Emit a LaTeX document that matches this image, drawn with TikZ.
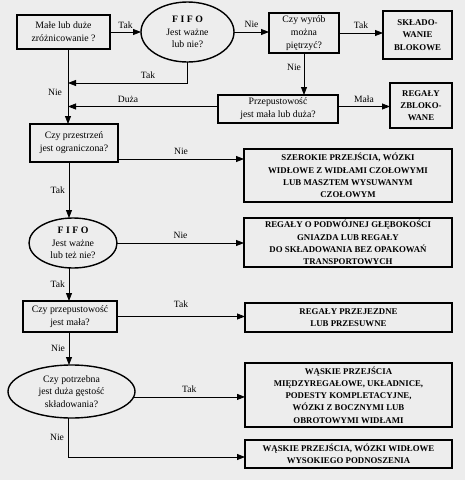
\documentclass[tikz,border=0pt]{standalone}
\usepackage{fontspec}
\setmainfont{Liberation Serif}
\usetikzlibrary{arrows.meta,shapes.geometric}
\begin{document}
\begin{tikzpicture}[x=1pt,y=-1pt,
  every node/.style={inner sep=0pt,outer sep=0pt},
  dbox/.style={draw,line width=1.4pt,align=center,font=\fontsize{9.8}{12.8}\selectfont},
  dell/.style={draw,ellipse,line width=1.4pt,align=center,font=\fontsize{9.8}{12.8}\selectfont},
  obox/.style={draw,line width=1.9pt,align=center,font=\fontsize{8.8}{12.2}\selectfont\bfseries},
  arr/.style={line width=0.8pt,-{Triangle[length=8pt,width=6pt]}},
  lab/.style={font=\fontsize{9.6}{11}\selectfont}]
\fill[black!7] (0,0) rectangle (465,480);
\useasboundingbox (0,0) rectangle (465,480);
% nodes
\node[dbox,minimum width=93pt,minimum height=34pt] (b1) at (63.5,32) {Małe lub duże\\zróżnicowanie ?};
\node[dell,minimum width=93pt,minimum height=60pt] (e1) at (187.5,32) {{\bfseries F I F O}\\Jest ważne\\lub nie?};
\node[dbox,minimum width=70pt,minimum height=40pt] (wy) at (304,33) {Czy wyrób\\można\\piętrzyć?};
\node[obox,minimum width=69pt,minimum height=48pt] (sk) at (417.5,35) {SKŁADO-\\WANIE\\BLOKOWE};
\node[dbox,minimum width=120pt,minimum height=28pt] (pm) at (278,109) {Przepustowość\\jest mała lub duża?};
\node[obox,minimum width=62pt,minimum height=45pt] (zb) at (421,105.5) {REGAŁY\\ZBLOKO-\\WANE};
\node[dbox,minimum width=88pt,minimum height=38pt] (po) at (74,143) {Czy przestrzeń\\jest ograniczona?};
\node[obox,minimum width=208pt,minimum height=53pt] (sz) at (348,175.5) {SZEROKIE PRZEJŚCIA, WÓZKI\\WIDŁOWE Z WIDŁAMI CZOŁOWYMI\\LUB MASZTEM WYSUWANYM\\CZOŁOWYM};
\node[dell,minimum width=88pt,minimum height=50pt] (e2) at (73,243) {{\bfseries F I F O}\\Jest ważne\\lub też nie?};
\node[obox,minimum width=208pt,minimum height=49pt] (pw) at (348,242.5) {REGAŁY O PODWÓJNEJ GŁĘBOKOŚCI\\GNIAZDA LUB REGAŁY\\DO SKŁADOWANIA BEZ OPAKOWAŃ\\TRANSPORTOWYCH};
\node[dbox,minimum width=94pt,minimum height=31pt] (p2) at (70,316.5) {Czy przepustowość\\jest mała?};
\node[obox,minimum width=207pt,minimum height=29pt] (pj) at (348.5,317.5) {REGAŁY PRZEJEZDNE\\LUB PRZESUWNE};
\node[dell,minimum width=127pt,minimum height=53pt] (e3) at (71.5,391.5) {Czy potrzebna\\jest duża gęstość\\składowania?};
\node[obox,minimum width=207pt,minimum height=64pt] (w1) at (348.5,395) {WĄSKIE PRZEJŚCIA\\MIĘDZYREGAŁOWE, UKŁADNICE,\\PODESTY KOMPLETACYJNE,\\WÓZKI Z BOCZNYMI LUB\\OBROTOWYMI WIDŁAMI};
\node[obox,minimum width=207pt,minimum height=28pt] (w2) at (348.5,454) {WĄSKIE PRZEJŚCIA, WÓZKI WIDŁOWE\\WYSOKIEGO PODNOSZENIA};
% helper coordinates
\coordinate (tr) at (68,0);
\coordinate (tr2) at (69,0);
\coordinate (ytak) at (0,83);
\coordinate (ydu) at (0,106.5);
\coordinate (yn1) at (0,159);
\coordinate (ybot) at (0,457);
% connectors
\draw[arr] (b1) -- (e1) node[lab,midway,above=3pt] {Tak};
\draw[arr] (e1) -- (wy.west |- e1) node[lab,midway,above=4pt] {Nie};
\draw[arr] (wy) -- (sk.west |- wy) node[lab,midway,above=4pt] {Tak};
\draw[arr] (wy) -- (pm.north -| wy) node[lab,pos=0.35,left=3pt] {Nie};
\draw[arr] (pm.east |- ydu) -- (zb.west |- ydu) node[lab,midway,above=4pt] {Mała};
\draw[arr] (e1.south) -- (e1.south |- ytak) -- (tr |- ytak) node[lab,pos=0.33,above=4pt] {Tak};
\draw[arr] (pm.west |- ydu) -- (tr |- ydu) node[lab,pos=0.6,above=4pt] {Duża};
\draw[arr] (b1.south -| tr) -- (po.north -| tr) node[lab,pos=0.58,left=6pt] {Nie};
\draw[arr] (po.east |- yn1) -- (sz.west |- yn1) node[lab,midway,above=4pt] {Nie};
\draw[arr] (po.south -| tr2) -- (e2.north -| tr2) node[lab,midway,left=4pt] {Tak};
\draw[arr] (e2) -- (pw.west |- e2) node[lab,midway,above=4pt] {Nie};
\draw[arr] (e2.south -| tr2) -- (p2.north -| tr2) node[lab,midway,left=4pt] {Tak};
\draw[arr] (p2) -- (pj.west |- p2) node[lab,midway,above=9pt] {Tak};
\draw[arr] (p2.south -| tr2) -- (e3.north -| tr2) node[lab,midway,left=4pt] {Nie};
\draw[arr] (e3.-5) -- (w1.west |- e3.-5) node[lab,midway,above=4pt] {Tak};
\draw[arr] (e3.south -| tr) -- (tr |- ybot) node[lab,pos=0.5,left=4pt] {Nie} -- (w2.west |- ybot);
\end{tikzpicture}
\end{document}
